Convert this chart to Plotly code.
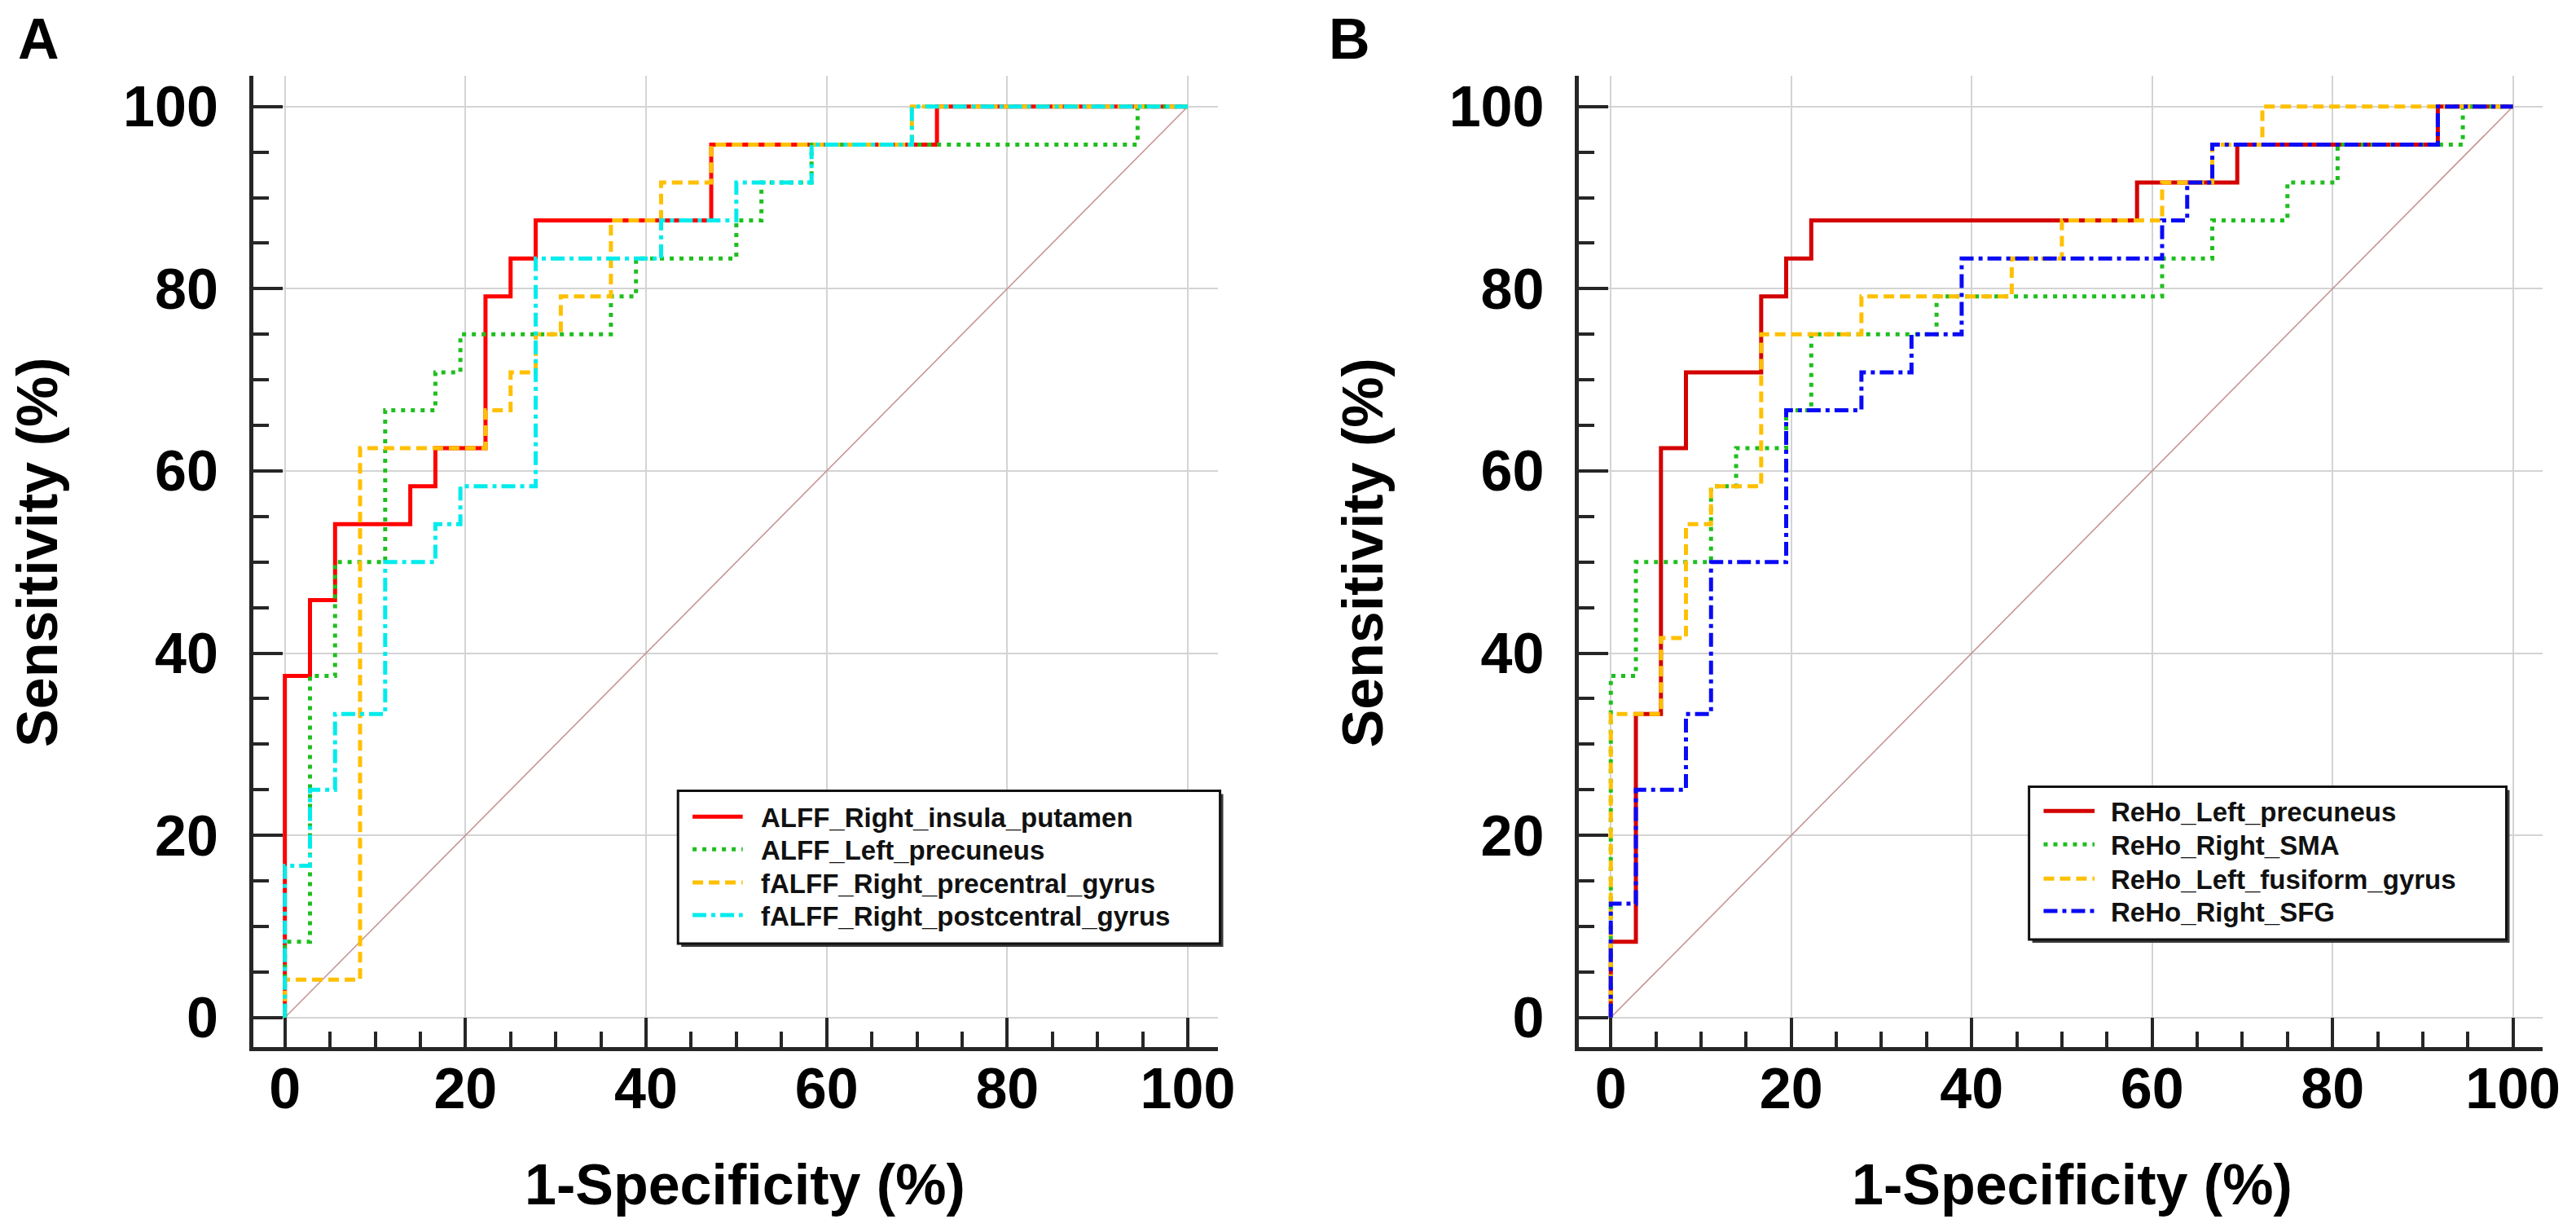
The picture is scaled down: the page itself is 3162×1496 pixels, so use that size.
import plotly.graph_objects as go

# ---------------- Data (ROC step corners, % values) ----------------
# Panel A
a_names = ["ALFF_Right_insula_putamen", "ALFF_Left_precuneus",
           "fALFF_Right_precentral_gyrus", "fALFF_Right_postcentral_gyrus"]
a1_fpr = [0, 0, 2.78, 5.56, 13.89, 16.67, 22.22, 25.0, 27.78, 47.22, 72.22, 100]
a1_tpr = [0, 37.5, 45.83, 54.17, 58.33, 62.5, 79.17, 83.33, 87.5, 95.83, 100, 100]
a2_fpr = [0, 0, 2.78, 5.56, 11.11, 16.67, 19.44, 36.11, 38.89, 50.0, 52.78, 58.33, 94.44, 100]
a2_tpr = [0, 8.33, 37.5, 50.0, 66.67, 70.83, 75.0, 79.17, 83.33, 87.5, 91.67, 95.83, 100, 100]
a3_fpr = [0, 0, 8.33, 22.22, 25.0, 27.78, 30.56, 36.11, 41.67, 47.22, 69.44, 100]
a3_tpr = [0, 4.17, 62.5, 66.67, 70.83, 75.0, 79.17, 87.5, 91.67, 95.83, 100, 100]
a4_fpr = [0, 0, 2.78, 5.56, 11.11, 16.67, 19.44, 27.78, 41.67, 50.0, 58.33, 69.44, 100]
a4_tpr = [0, 16.67, 25.0, 33.33, 50.0, 54.17, 58.33, 83.33, 87.5, 91.67, 95.83, 100, 100]

# Panel B
b_names = ["ReHo_Left_precuneus", "ReHo_Right_SMA",
           "ReHo_Left_fusiform_gyrus", "ReHo_Right_SFG"]
b1_fpr = [0, 0, 2.78, 5.56, 8.33, 16.67, 19.44, 22.22, 58.33, 69.44, 91.67, 100]
b1_tpr = [0, 8.33, 33.33, 62.5, 70.83, 79.17, 83.33, 87.5, 91.67, 95.83, 100, 100]
b2_fpr = [0, 0, 2.78, 11.11, 13.89, 19.44, 22.22, 36.11, 61.11, 66.67, 75.0, 80.56, 94.44, 100]
b2_tpr = [0, 37.5, 50.0, 58.33, 62.5, 66.67, 75.0, 79.17, 83.33, 87.5, 91.67, 95.83, 100, 100]
b3_fpr = [0, 0, 5.56, 8.33, 11.11, 16.67, 27.78, 44.44, 50.0, 61.11, 66.67, 72.22, 100]
b3_tpr = [0, 33.33, 41.67, 54.17, 58.33, 75.0, 79.17, 83.33, 87.5, 91.67, 95.83, 100, 100]
b4_fpr = [0, 0, 2.78, 8.33, 11.11, 19.44, 27.78, 33.33, 38.89, 61.11, 63.89, 66.67, 91.67, 100]
b4_tpr = [0, 12.5, 25.0, 33.33, 50.0, 66.67, 70.83, 75.0, 83.33, 87.5, 91.67, 95.83, 100, 100]

diag = [0, 100]
tick_vals = [0, 20, 40, 60, 80, 100]

# ---------------- Styles ----------------
FONT = "Liberation Sans"
W, H = 3162, 1496
styles_a = [("#FF0000", "solid", 5), ("#1FBF1F", "5px,7px", 5),
            ("#FFC000", "13px,7px", 5), ("#00ECEC", "17px,6px,5px,6px", 5)]
styles_b = [("#D40000", "solid", 5), ("#1FBF1F", "5px,7px", 5),
            ("#FFC000", "13px,7px", 5), ("#0A0AF5", "17px,6px,5px,6px", 5)]

fig = go.Figure()

def add_panel(xa, ya, names, series, styles):
    fig.add_trace(go.Scatter(x=diag, y=diag, mode="lines", xaxis=xa, yaxis=ya,
                             line=dict(color="#C89494", width=1.6),
                             showlegend=False, hoverinfo="skip"))
    for name, (fx, ty), (col, dash, w) in zip(names, series, styles):
        fig.add_trace(go.Scatter(x=fx, y=ty, mode="lines", name=name,
                                 xaxis=xa, yaxis=ya, showlegend=False,
                                 line=dict(color=col, dash=dash, width=w, shape="hv")))

add_panel("x", "y", a_names,
          [(a1_fpr, a1_tpr), (a2_fpr, a2_tpr), (a3_fpr, a3_tpr), (a4_fpr, a4_tpr)], styles_a)
add_panel("x2", "y2", b_names,
          [(b1_fpr, b1_tpr), (b2_fpr, b2_tpr), (b3_fpr, b3_tpr), (b4_fpr, b4_tpr)], styles_b)

AX = "#262626"
def axis(domain, anchor, rng, standoff):
    return dict(domain=domain, anchor=anchor, range=rng,
                tickvals=tick_vals, ticks="inside", ticklen=36, tickwidth=4,
                tickcolor=AX, showline=True, linewidth=5, linecolor=AX,
                showgrid=True, gridcolor="#D4D4D4", gridwidth=2, zeroline=False,
                minor=dict(ticks="inside", ticklen=19, tickwidth=4, tickcolor=AX,
                           dtick=5, tick0=0, showgrid=False),
                tickfont=dict(family=FONT, size=70, color="#000000", weight="bold"),
                ticklabelstandoff=standoff, fixedrange=True)

ydom = [1 - 1280 / H, 1 - 85 / H]
xrng = [-3.5, 103.3]
yrng = [-3.2, 103.4]
fig.update_layout(
    width=W, height=H,
    margin=dict(l=0, r=0, t=0, b=0),
    paper_bgcolor="white", plot_bgcolor="white",
    xaxis=axis([305 / W, 1497 / W], "y", xrng, -14),
    yaxis=axis(ydom, "x", yrng, 24),
    xaxis2=axis([1944 / W, 3135 / W], "y2", xrng, -14),
    yaxis2=axis(ydom, "x2", yrng, 24),
    showlegend=False,
)

def px(x):
    return x / W

def py(y):
    return 1 - y / H

# ---- legend boxes (drawn like the reference: framed box with shadow) ----
def legend_box(x0, x1, y0, y1, sym_x0, sym_x1, text_x, rows, names, styles):
    fig.add_shape(type="rect", xref="paper", yref="paper",
                  x0=px(x0 + 4), x1=px(x1 + 4), y0=py(y0 + 4), y1=py(y1 + 4),
                  line=dict(width=0), fillcolor="#3a3a3a", layer="above")
    fig.add_shape(type="rect", xref="paper", yref="paper",
                  x0=px(x0), x1=px(x1), y0=py(y0), y1=py(y1),
                  line=dict(color="#111111", width=3), fillcolor="white", layer="above")
    for ry, name, (col, dash, w) in zip(rows, names, styles):
        fig.add_shape(type="line", xref="paper", yref="paper",
                      x0=px(sym_x0), x1=px(sym_x1), y0=py(ry), y1=py(ry),
                      line=dict(color=col, dash=dash, width=w), layer="above")
        fig.add_annotation(xref="paper", yref="paper", x=px(text_x), y=py(ry + 1),
                           text=name, showarrow=False, xanchor="left", yanchor="middle",
                           font=dict(family=FONT, size=33, color="#111111", weight="bold"))

legend_box(830, 1500, 965, 1153, 848, 910, 930, [997, 1037, 1078, 1118], a_names, styles_a)
legend_box(2500, 3090, 960, 1148, 2518, 2581, 2599, [990, 1031, 1073, 1113], b_names, styles_b)

title_font = dict(family=FONT, size=70, color="#000000", weight="bold")
annotations = [
    dict(text="A", x=px(40), y=1.0, yanchor="top", font=dict(family=FONT, size=70, color="#000", weight="bold")),
    dict(text="B", x=px(1660), y=1.0, yanchor="top", font=dict(family=FONT, size=70, color="#000", weight="bold")),
    dict(text="1-Specificity (%)", x=px(913), y=py(1450), font=title_font),
    dict(text="1-Specificity (%)", x=px(2553), y=py(1450), font=title_font),
    dict(text="Sensitivity (%)", x=px(38), y=py(672), textangle=-90, font=title_font),
    dict(text="Sensitivity (%)", x=px(1677), y=py(672), textangle=-90, font=title_font),
]
for a in annotations:
    a.setdefault("yanchor", "middle")
    fig.add_annotation(xref="paper", yref="paper", showarrow=False,
                       xanchor="center", borderpad=0, **a)

fig.write_html("out.html")
